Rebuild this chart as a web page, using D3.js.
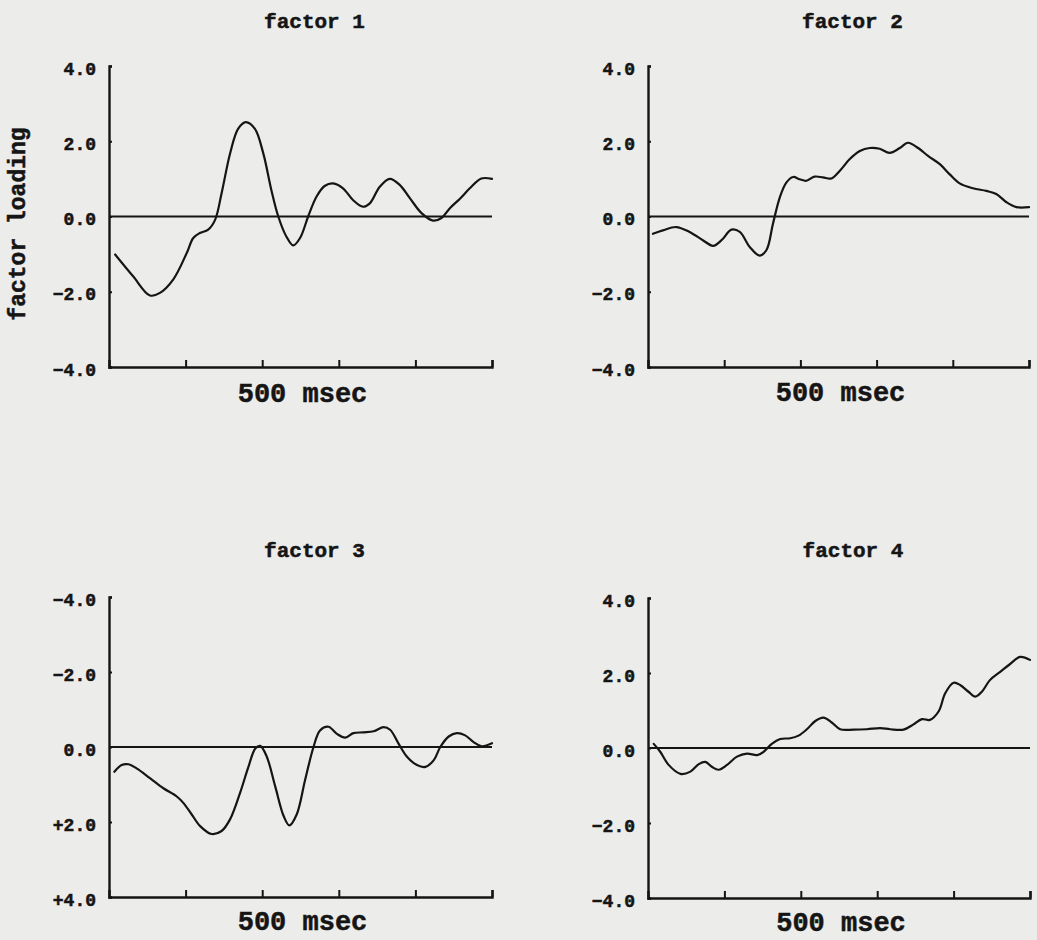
<!DOCTYPE html>
<html>
<head>
<meta charset="utf-8">
<script src="https://cdn.jsdelivr.net/npm/d3@7"></script>
<style>
  html, body { margin: 0; padding: 0; background: #ececea; }
  svg { display: block; }
  text { font-family: "Liberation Mono", "DejaVu Sans Mono", monospace; font-weight: bold; fill: #151515; stroke: #151515; stroke-width: 0.5px; }
</style>
</head>
<body>
<svg id="chart" width="1037" height="940"></svg>
<script>
// ---------- data (time in msec, factor loading) ----------
const titles = ["factor 1", "factor 2", "factor 3", "factor 4"];
const xTicks = [200, 400, 600, 800, 1000];
const yTicks = [-4, -2, 0, 2, 4];
const yTickLabelsNormal = ["\u22124.0", "\u22122.0", "0.0", "2.0", "4.0"];
const yTickLabelsSigned = ["\u22124.0", "\u22122.0", "0.0", "+2.0", "+4.0"];
const xLabel = "500 msec";
const yLabel = "factor loading";

const f1Times  = [16, 63, 107, 133, 168, 203, 220, 237, 259, 277, 294, 316, 337, 357, 381, 403, 424, 442, 463, 481, 499, 520, 542, 563, 585, 611, 637, 663, 681, 707, 733, 759, 786, 816, 846, 868, 890, 917, 942, 972, 1000];
const f1Values = [-1.01, -1.59, -2.10, -2.03, -1.67, -0.97, -0.57, -0.44, -0.35, -0.09, 0.62, 1.67, 2.33, 2.51, 2.33, 1.67, 0.70, 0.0, -0.53, -0.77, -0.57, 0.0, 0.53, 0.81, 0.88, 0.75, 0.44, 0.26, 0.35, 0.79, 1.00, 0.84, 0.48, 0.09, -0.11, -0.04, 0.22, 0.48, 0.75, 1.01, 1.00];

const f2Times  = [13, 39, 74, 109, 144, 171, 193, 219, 241, 267, 293, 311, 328, 346, 363, 381, 398, 416, 437, 459, 481, 503, 529, 556, 582, 608, 634, 661, 682, 709, 735, 766, 792, 818, 853, 888, 914, 941, 967, 1000];
const f2Values = [-0.46, -0.37, -0.28, -0.41, -0.63, -0.78, -0.63, -0.35, -0.41, -0.81, -1.04, -0.89, -0.19, 0.51, 0.90, 1.05, 0.99, 0.95, 1.06, 1.04, 1.01, 1.21, 1.52, 1.74, 1.82, 1.80, 1.69, 1.82, 1.96, 1.82, 1.61, 1.39, 1.12, 0.88, 0.75, 0.68, 0.60, 0.38, 0.25, 0.25];

const f3Times  = [14, 33, 51, 72, 107, 142, 177, 194, 216, 238, 268, 294, 316, 342, 364, 382, 395, 412, 434, 456, 471, 490, 512, 534, 551, 573, 595, 617, 638, 665, 691, 717, 734, 756, 778, 804, 826, 848, 865, 887, 908, 930, 952, 973, 1000];
const f3Values = [0.66, 0.48, 0.46, 0.57, 0.83, 1.10, 1.32, 1.49, 1.80, 2.11, 2.32, 2.24, 1.93, 1.23, 0.53, 0.04, -0.03, 0.26, 1.05, 1.84, 2.09, 1.80, 0.88, 0.0, -0.44, -0.54, -0.35, -0.25, -0.37, -0.39, -0.42, -0.53, -0.46, -0.09, 0.26, 0.48, 0.53, 0.35, 0.0, -0.28, -0.37, -0.31, -0.13, -0.02, -0.10];

const f4Times  = [15, 32, 54, 85, 111, 133, 150, 167, 185, 207, 233, 259, 286, 303, 324, 346, 372, 394, 416, 438, 459, 481, 503, 538, 573, 608, 634, 669, 695, 717, 738, 761, 778, 800, 817, 839, 857, 874, 895, 922, 948, 974, 1000];
const f4Values = [0.11, -0.10, -0.45, -0.69, -0.63, -0.43, -0.37, -0.50, -0.58, -0.45, -0.23, -0.15, -0.19, -0.10, 0.11, 0.24, 0.26, 0.33, 0.50, 0.72, 0.81, 0.68, 0.50, 0.49, 0.50, 0.53, 0.50, 0.49, 0.63, 0.77, 0.75, 0.98, 1.46, 1.74, 1.68, 1.50, 1.37, 1.50, 1.81, 2.03, 2.24, 2.43, 2.35];

const seriesTimes  = [f1Times, f2Times, f3Times, f4Times];
const seriesValues = [f1Values, f2Values, f3Values, f4Values];
const invertedY    = [false, false, true, false];

// ---------- layout ----------
const panels = [
  { x0: 109, x1: 492,  y0: 66,  y1: 367, titleY: 28,  xlabY: 402 },
  { x0: 648, x1: 1029, y0: 66,  y1: 367, titleY: 28,  xlabY: 401 },
  { x0: 109, x1: 492,  y0: 597, y1: 897, titleY: 557, xlabY: 930 },
  { x0: 648, x1: 1030, y0: 598, y1: 898, titleY: 557, xlabY: 931 }
];

const svg = d3.select("#chart");
svg.append("rect").attr("width", 1037).attr("height", 940).attr("fill", "#ececea");

panels.forEach((p, i) => {
  const g = svg.append("g");
  const x = d3.scaleLinear().domain([0, 1000]).range([p.x0, p.x1]);
  const y = invertedY[i]
    ? d3.scaleLinear().domain([-4, 4]).range([p.y0, p.y1])
    : d3.scaleLinear().domain([-4, 4]).range([p.y1, p.y0]);
  const labels = invertedY[i] ? yTickLabelsSigned : yTickLabelsNormal;

  // y axis
  const yAxis = d3.axisLeft(y).tickValues(yTicks).tickSize(-3).tickPadding(13)
    .tickFormat((d, k) => labels[k]);
  const ya = g.append("g").attr("transform", `translate(${p.x0},0)`).call(yAxis);
  ya.select(".domain").attr("stroke", "#151515").attr("stroke-width", 2.4);
  ya.selectAll(".tick line").attr("stroke", "#151515").attr("stroke-width", 2);
  ya.selectAll(".tick text").attr("font-size", 18).attr("font-family", "Liberation Mono")
    .attr("font-weight", "bold").attr("fill", "#151515").attr("dy", "0.45em");

  // x axis
  const xAxis = d3.axisBottom(x).tickValues(xTicks).tickSize(-7).tickFormat("");
  const bottomY = invertedY[i] ? y(4) : y(-4);
  const xa = g.append("g").attr("transform", `translate(0,${bottomY})`).call(xAxis);
  xa.select(".domain").attr("stroke", "#151515").attr("stroke-width", 2.4);
  xa.selectAll(".tick line").attr("stroke", "#151515").attr("stroke-width", 2);

  // zero line
  g.append("line")
    .attr("x1", x(0)).attr("x2", x(1000))
    .attr("y1", y(0)).attr("y2", y(0))
    .attr("stroke", "#151515").attr("stroke-width", 2);

  // curve
  const pts = seriesTimes[i].map((t, k) => [t, seriesValues[i][k]]);
  const line = d3.line().x(d => x(d[0])).y(d => y(d[1])).curve(d3.curveCatmullRom.alpha(0.5));
  g.append("path").datum(pts).attr("d", line)
    .attr("fill", "none").attr("stroke", "#151515").attr("stroke-width", 2.2)
    .attr("stroke-linejoin", "round").attr("stroke-linecap", "round");

  // title
  g.append("text").attr("x", (p.x0 + p.x1) / 2 + 14).attr("y", p.titleY)
    .attr("text-anchor", "middle").attr("font-size", 21).text(titles[i]);

  // x label
  g.append("text").attr("x", (p.x0 + p.x1) / 2 + 2).attr("y", p.xlabY)
    .attr("text-anchor", "middle").attr("font-size", 27).text(xLabel);
});

// y label
svg.append("text").attr("transform", "translate(25,224) rotate(-90)")
  .attr("text-anchor", "middle").attr("font-size", 23).text(yLabel);
</script>
</body>
</html>
